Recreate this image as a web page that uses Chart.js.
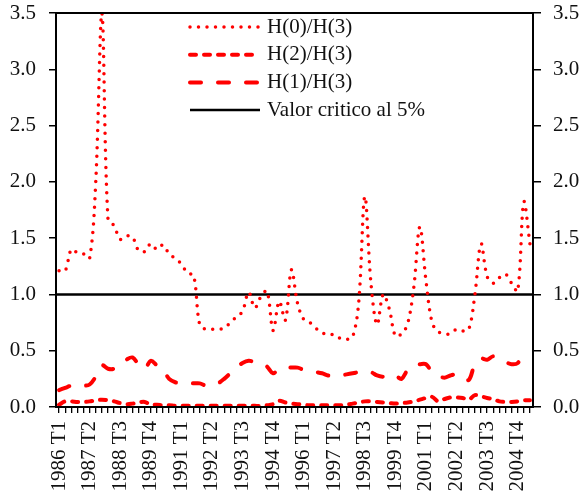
<!DOCTYPE html>
<html>
<head>
<meta charset="utf-8">
<script src="https://cdn.jsdelivr.net/npm/chart.js@4/dist/chart.umd.min.js"></script>
<style>
  html, body { margin: 0; padding: 0; background: #fff; }
  #wrap { width: 583px; height: 501px; }
</style>
</head>
<body>
<div id="wrap"><canvas id="chart" width="583" height="501"></canvas></div>
<script>
// quarters 1986 T1 .. 2005 T2
const categories = [];
for (let i = 0; i < 78; i++) {
  categories.push((1986 + Math.floor(i / 4)) + " T" + (i % 4 + 1));
}

const xTickLabels = ["1986 T1", "1987 T2", "1988 T3", "1989 T4", "1991 T1", "1992 T2", "1993 T3", "1994 T4",
  "1996 T1", "1997 T2", "1998 T3", "1999 T4", "2001 T1", "2002 T2", "2003 T3", "2004 T4"];
const yTicks = [0, 0.5, 1, 1.5, 2, 2.5, 3, 3.5];

const h0h3 = [1.21, 1.21, 1.40, 1.37, 1.36, 1.32, 2.00, 3.50, 1.67, 1.61,
  1.49, 1.52, 1.51, 1.39, 1.38, 1.45, 1.40, 1.44, 1.36, 1.32,
  1.27, 1.19, 1.17, 0.73, 0.69, 0.69, 0.69, 0.70, 0.75, 0.80,
  0.85, 1.02, 0.88, 0.98, 1.03, 0.68, 0.94, 0.77, 1.22, 0.92,
  0.78, 0.75, 0.70, 0.66, 0.64, 0.645, 0.61, 0.60, 0.62, 0.93,
  1.87, 1.10, 0.73, 1.00, 0.87, 0.63, 0.65, 0.74, 1.06, 1.60,
  1.12, 0.75, 0.67, 0.65, 0.65, 0.69, 0.675, 0.69, 1.00, 1.45,
  1.16, 1.10, 1.15, 1.18, 1.10, 1.03, 1.82, 1.45];

const h2h3 = [0.02, 0.05, 0.05, 0.045, 0.045, 0.05, 0.06, 0.065, 0.06, 0.05,
  0.035, 0.025, 0.03, 0.04, 0.045, 0.02, 0.02, 0.015, 0.015, 0.01,
  0.01, 0.01, 0.01, 0.01, 0.01, 0.01, 0.01, 0.01, 0.01, 0.01,
  0.01, 0.01, 0.01, 0.01, 0.015, 0.025, 0.055, 0.04, 0.03, 0.025,
  0.02, 0.015, 0.015, 0.015, 0.015, 0.015, 0.015, 0.02, 0.03, 0.04,
  0.05, 0.05, 0.045, 0.04, 0.035, 0.03, 0.035, 0.04, 0.05, 0.065,
  0.08, 0.09, 0.05, 0.07, 0.085, 0.085, 0.08, 0.065, 0.105, 0.095,
  0.08, 0.07, 0.05, 0.045, 0.045, 0.05, 0.06, 0.06];

const h1h3 = [0.15, 0.17, 0.19, 0.20, 0.19, 0.20, 0.27, 0.37, 0.34, 0.34,
  0.38, 0.42, 0.44, 0.38, 0.34, 0.41, 0.37, 0.33, 0.25, 0.22,
  0.215, 0.215, 0.21, 0.21, 0.19, 0.19, 0.21, 0.25, 0.30, 0.35,
  0.39, 0.41, 0.40, 0.39, 0.36, 0.30, 0.34, 0.35, 0.35, 0.35,
  0.33, 0.32, 0.31, 0.30, 0.28, 0.275, 0.28, 0.29, 0.30, 0.31,
  0.32, 0.31, 0.28, 0.27, 0.29, 0.28, 0.25, 0.33, 0.37, 0.38,
  0.38, 0.31, 0.28, 0.26, 0.28, 0.29, 0.28, 0.24, 0.38, 0.43,
  0.42, 0.45, 0.42, 0.40, 0.38, 0.39, 0.48, 0.49];

const critico = 1.0;
const criticoLabel = "Valor critico al 5%";

const serif = "'Liberation Serif', 'Times New Roman', serif";
Chart.defaults.font.family = serif;
Chart.defaults.font.size = 21;
Chart.defaults.color = "#111";

// black 5% line, outer box and the legend
const extrasPlugin = {
  id: "extras",
  beforeDatasetsDraw(chart) {
    const { ctx, chartArea: a, scales } = chart;
    const y = scales.y.getPixelForValue(critico);
    ctx.save();
    ctx.strokeStyle = "#000";
    ctx.lineWidth = 2.5;
    ctx.beginPath();
    ctx.moveTo(a.left, y);
    ctx.lineTo(a.right, y);
    ctx.stroke();
    ctx.restore();
  },
  afterDraw(chart) {
    const { ctx, chartArea: a } = chart;
    ctx.save();
    ctx.strokeStyle = "#000";
    ctx.lineWidth = 2;
    ctx.strokeRect(a.left, a.top, a.right - a.left, a.bottom - a.top);

    const items = chart.data.datasets.map(ds => ({
      text: ds.label, color: ds.borderColor, width: ds.borderWidth, dash: ds.borderDash, cap: ds.borderCapStyle
    }));
    items.push({ text: criticoLabel, color: "#000", width: 2.5, dash: [], cap: "butt" });

    const x0 = 190, x1 = 260, textX = 267;
    let rowY = 27;
    ctx.font = "21px " + serif;
    ctx.textBaseline = "middle";
    items.forEach(it => {
      ctx.strokeStyle = it.color;
      ctx.lineWidth = it.width;
      ctx.lineCap = it.cap;
      ctx.setLineDash(it.dash);
      ctx.beginPath();
      ctx.moveTo(x0, rowY);
      ctx.lineTo(x1, rowY);
      ctx.stroke();
      ctx.setLineDash([]);
      ctx.fillStyle = "#111";
      ctx.fillText(it.text, textX, rowY);
      rowY += 27.7;
    });
    ctx.restore();
  }
};

const setTicks = (scale) => { scale.ticks = yTicks.map(v => ({ value: v })); };
const fmt = (v) => Number(v).toFixed(1);
// fixed width, and no extra room above/below for the end labels
const fitY = (w) => (scale) => {
  scale.width = w;
  scale.paddingTop = 0;
  scale.paddingBottom = 0;
};

new Chart(document.getElementById("chart").getContext("2d"), {
  type: "line",
  data: {
    labels: categories,
    datasets: [
      {
        label: "H(0)/H(3)",
        data: h0h3,
        borderColor: "#ff0000",
        borderWidth: 3.5,
        borderDash: [0, 8.5],
        borderCapStyle: "round",
        pointRadius: 0,
        tension: 0.35,
        fill: false
      },
      {
        label: "H(2)/H(3)",
        data: h2h3,
        borderColor: "#ff0000",
        borderWidth: 4,
        borderDash: [6, 8],
        borderCapStyle: "round",
        pointRadius: 0,
        tension: 0.35,
        fill: false
      },
      {
        label: "H(1)/H(3)",
        data: h1h3,
        borderColor: "#ff0000",
        borderWidth: 4,
        borderDash: [11, 17],
        borderCapStyle: "round",
        pointRadius: 0,
        tension: 0.35,
        fill: false
      }
    ]
  },
  options: {
    responsive: false,
    animation: false,
    devicePixelRatio: 1,
    layout: { padding: { top: 13, left: 0, right: 0, bottom: 0 } },
    plugins: {
      legend: { display: false },
      tooltip: { enabled: false }
    },
    scales: {
      x: {
        offset: true,
        grid: { drawOnChartArea: false, drawTicks: true, tickLength: 6, color: "#000", lineWidth: 1.3 },
        border: { display: false },
        ticks: {
          autoSkip: false,
          minRotation: 90,
          maxRotation: 90,
          padding: 8,
          callback: function (value) {
            const lbl = this.getLabelForValue(value);
            return xTickLabels.includes(lbl) ? lbl : "";
          }
        },
        afterFit: (scale) => { scale.height = 94; }
      },
      y: {
        position: "left",
        min: 0,
        max: 3.5,
        afterBuildTicks: setTicks,
        grid: { drawOnChartArea: false, tickLength: 7, color: "#000", lineWidth: 1.5 },
        border: { display: false },
        ticks: { padding: 13, callback: fmt },
        afterFit: fitY(56)
      },
      y2: {
        position: "right",
        min: 0,
        max: 3.5,
        afterBuildTicks: setTicks,
        grid: { drawOnChartArea: false, tickLength: 8, color: "#000", lineWidth: 1.5 },
        border: { display: false },
        ticks: { padding: 12, callback: fmt },
        afterFit: fitY(50)
      }
    }
  },
  plugins: [extrasPlugin]
});
</script>
</body>
</html>
